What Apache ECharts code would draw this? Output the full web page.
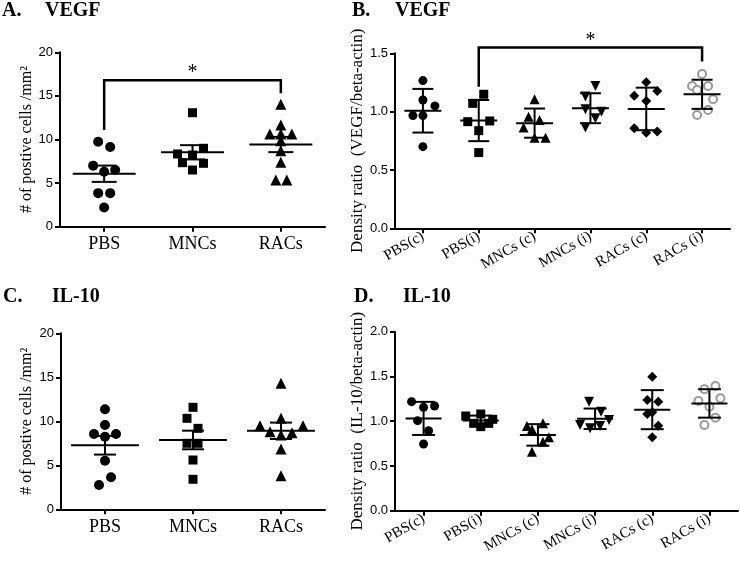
<!DOCTYPE html>
<html>
<head>
<meta charset="utf-8">
<script src="https://cdn.jsdelivr.net/npm/echarts@6/dist/echarts.min.js"></script>
<style>
html,body{margin:0;padding:0;background:#fff;}
#main{width:740px;height:563px;}
</style>
</head>
<body>
<div id="main"></div>
<script>
// ---------- DATA ----------
const catsCells = ['PBS', 'MNCs', 'RACs'];
const catsRatio = ['PBS(c)', 'PBS(i)', 'MNCs (c)', 'MNCs (i)', 'RACs (c)', 'RACs (i)'];
const cellTicks = [0, 5, 10, 15, 20];
const ratioTicksB = [0, 0.5, 1.0, 1.5];
const ratioTicksD = [0, 0.5, 1.0, 1.5, 2.0];

// A. VEGF positive cells / mm2
const vegfCellsPBS  = [9.75, 9.15, 7.0, 6.3, 6.5, 3.85, 3.85, 2.2];
const vegfCellsMNCs = [13.07, 8.34, 8.99, 8.22, 7.34, 7.27, 6.5];
const vegfCellsRACs = [14.03, 11.66, 10.63, 10.63, 10.63, 9.86, 8.72, 7.38, 5.35, 5.35];

// B. VEGF density ratio
const vegfRatioPBSc  = [1.266, 1.10, 1.049, 0.966, 0.966, 0.70];
const vegfRatioPBSi  = [1.149, 1.071, 0.914, 0.92, 0.837, 0.649];
const vegfRatioMNCsc = [1.106, 0.957, 0.929, 0.863, 0.777, 0.777];
const vegfRatioMNCsi = [1.22, 1.129, 1.02, 1.0, 0.943, 0.863];
const vegfRatioRACsc = [1.251, 1.137, 1.177, 1.091, 0.857, 0.82, 0.829];
const vegfRatioRACsi = [1.323, 1.22, 1.22, 1.186, 1.106, 1.014, 0.971];

// C. IL-10 positive cells / mm2
const il10CellsPBS  = [11.36, 9.58, 8.56, 8.56, 8.25, 5.52, 3.64, 2.76];
const il10CellsMNCs = [11.59, 10.34, 9.2, 7.5, 7.5, 5.6, 3.41];
const il10CellsRACs = [14.32, 10.34, 9.5, 9.5, 8.82, 8.44, 8.7, 6.85, 3.82];

// D. IL-10 density ratio
const il10RatioPBSc  = [1.218, 1.155, 1.17, 1.006, 0.894, 0.745];
const il10RatioPBSi  = [1.058, 1.08, 1.021, 0.976, 0.939, 0.976];
const il10RatioMNCsc = [0.946, 0.976, 0.909, 0.82, 0.771, 0.659];
const il10RatioMNCsi = [1.218, 1.106, 0.958, 0.92, 0.946, 1.013];
const il10RatioRACsc = [1.497, 1.237, 1.218, 1.08, 1.1, 0.95, 0.82];
const il10RatioRACsi = [1.356, 1.393, 1.226, 1.256, 1.162, 1.039, 0.958];

// significance brackets: [fromCategory, toCategory, barLevel, leftDrop, rightDrop]
const bracketA = ['PBS', 'RACs', 16.8, 11.1, 15.3];
const bracketB = ['PBS(i)', 'RACs (i)', 1.549, 1.214, 1.429];

// ---------- horizontal spread of points (pixels, layout only) ----------
const jitA = [[-6,6,-11,0,11,-6,6,0],[0,-15,11,0,-10,11,0],[0,0,-11,0,11,0,0,0,-5,6]];
const jitB = [[0,0,12,-10,0,0],[5,-6,-11,11,0,0],[0,-6,5,-11,0,11],[5,-5,-5,11,5,-5],[0,-12,11,0,-12,0,11],[0,-10,6,-5,11,6,-5]];
const jitC = [[0,0,-11,11,0,0,6,-6],[0,-6,5,-6,5,0,0],[0,0,-21,22,-11,0,11,0,0]];
const jitD = [[-12,0,11,-6,5,0],[-15,0,12,-7,0,8],[-11,5,-6,11,5,-6],[-6,6,-15,-5,5,14],[0,-5,6,-5,0,6,0],[-5,6,-11,11,0,6,-5]];

// ---------- helpers ----------
const SERIF = 'Liberation Serif, Times New Roman, serif';
const SANS = 'Liberation Sans, Arial, sans-serif';
function mean(a){ return a.reduce((s,v)=>s+v,0)/a.length; }
function sd(a){ const m=mean(a); return Math.sqrt(a.reduce((s,v)=>s+(v-m)*(v-m),0)/(a.length-1)); }
function sem(a){ return sd(a)/Math.sqrt(a.length); }

const black = {color:'#000', opacity:1};
const symbolsCells = [
  {symbol:'circle', size:10, rotate:0, style:black},
  {symbol:'rect', size:9, rotate:0, style:black},
  {symbol:'triangle', size:11, rotate:0, style:black}
];
const symbolsRatio = [
  {symbol:'circle', size:9, rotate:0, style:black},
  {symbol:'rect', size:9, rotate:0, style:black},
  {symbol:'triangle', size:10, rotate:0, style:black},
  {symbol:'triangle', size:10, rotate:180, style:black},
  {symbol:'diamond', size:10, rotate:0, style:black},
  {symbol:'circle', size:8, rotate:0, style:{color:'#fff', borderColor:'#9a9a9a', borderWidth:2, opacity:1}}
];

const series = [];
function addPanel(idx, groups, jit, syms, errFn, meanW, capW){
  groups.forEach((vals, ci) => {
    const s = syms[ci];
    series.push({
      type:'scatter', xAxisIndex:idx, yAxisIndex:idx,
      symbol:s.symbol, symbolSize:s.size, symbolRotate:s.rotate,
      itemStyle:s.style, z:2, silent:true,
      data: vals.map((v,k)=>({value:[ci, v], symbolOffset:[jit[ci][k]||0, 0]}))
    });
  });
  series.push({
    type:'custom', xAxisIndex:idx, yAxisIndex:idx, z:5, silent:true,
    data: groups.map((vals,ci)=>[ci, mean(vals), errFn(vals)]),
    renderItem: function(params, api){
      const x = api.value(0), m = api.value(1), e = api.value(2);
      const c = api.coord([x, m]);
      const hi = api.coord([x, m+e]);
      const lo = api.coord([x, m-e]);
      const st = {stroke:'#000', lineWidth:2};
      return {type:'group', children:[
        {type:'line', shape:{x1:c[0]-meanW/2, y1:c[1], x2:c[0]+meanW/2, y2:c[1]}, style:st},
        {type:'line', shape:{x1:c[0], y1:hi[1], x2:c[0], y2:lo[1]}, style:st},
        {type:'line', shape:{x1:c[0]-capW/2, y1:hi[1], x2:c[0]+capW/2, y2:hi[1]}, style:st},
        {type:'line', shape:{x1:c[0]-capW/2, y1:lo[1], x2:c[0]+capW/2, y2:lo[1]}, style:st}
      ]};
    }
  });
}
function addBracket(idx, cats, br){
  series.push({
    type:'custom', xAxisIndex:idx, yAxisIndex:idx, z:6, silent:true,
    data:[[cats.indexOf(br[0]), cats.indexOf(br[1]), br[2], br[3], br[4]]],
    encode:{x:[0,1], y:[2,3,4]},
    renderItem: function(params, api){
      const a = api.value(0), b = api.value(1), top = api.value(2), l = api.value(3), r = api.value(4);
      const p1 = api.coord([a, l]), p2 = api.coord([a, top]), p3 = api.coord([b, top]), p4 = api.coord([b, r]);
      return {type:'group', children:[
        {type:'polyline', shape:{points:[p1,p2,p3,p4]}, style:{stroke:'#000', lineWidth:2.5, fill:null}},
        {type:'text', x:(p2[0]+p3[0])/2, y:p2[1]+3, style:{text:'*', fontFamily:SERIF, fontSize:20, fill:'#000', align:'center', verticalAlign:'bottom'}}
      ]};
    }
  });
}

addPanel(0, [vegfCellsPBS, vegfCellsMNCs, vegfCellsRACs], jitA, symbolsCells, sem, 63, 25);
addPanel(1, [vegfRatioPBSc, vegfRatioPBSi, vegfRatioMNCsc, vegfRatioMNCsi, vegfRatioRACsc, vegfRatioRACsi], jitB, symbolsRatio, sd, 37, 21);
addPanel(2, [il10CellsPBS, il10CellsMNCs, il10CellsRACs], jitC, symbolsCells, sem, 68, 22);
addPanel(3, [il10RatioPBSc, il10RatioPBSi, il10RatioMNCsc, il10RatioMNCsi, il10RatioRACsc, il10RatioRACsi], jitD, symbolsRatio, sd, 36, 23);
addBracket(0, catsCells, bracketA);
addBracket(1, catsRatio, bracketB);

const axisLine = {show:true, lineStyle:{color:'#000', width:2}};
const axisTick = {show:true, length:5, lineStyle:{color:'#000', width:2}};

function xCat(idx, cats, rotated){
  return {
    type:'category', gridIndex:idx, data:cats, boundaryGap:true,
    axisLine:axisLine, axisTick:Object.assign({alignWithLabel:true}, axisTick),
    axisLabel: rotated
      ? {rotate:30, margin:7, fontFamily:SERIF, fontSize:15, color:'#000', interval:0}
      : {margin:9, fontFamily:SERIF, fontSize:18, color:'#000', interval:0},
    splitLine:{show:false}
  };
}
function yVal(idx, ticks, name, gap, digits){
  return {
    type:'value', gridIndex:idx, min:ticks[0], max:ticks[ticks.length-1], interval:ticks[1]-ticks[0],
    axisLine:axisLine, axisTick:axisTick, splitLine:{show:false},
    axisLabel:{margin:7, fontFamily:SANS, fontSize:13, color:'#000',
      formatter: v => digits ? v.toFixed(digits) : String(v)},
    name:name, nameLocation:'middle', nameGap:gap, nameRotate:90,
    nameTextStyle:{fontFamily:SERIF, fontSize: digits ? 17 : 16, color:'#000'}
  };
}

function ttl(text, left, top){
  return {text:text, left:left, top:top, padding:0,
    textStyle:{fontFamily:SERIF, fontWeight:'bold', fontSize:20, color:'#000'}};
}

const option = {
  backgroundColor:'#fff',
  animation:false,
  title:[
    ttl('A.', 2, 1), ttl('VEGF', 45, 1),
    ttl('B.', 352, 1), ttl('VEGF', 395, 1),
    ttl('C.', 3, 287), ttl('IL-10', 52, 287),
    ttl('D.', 354, 287), ttl('IL-10', 403, 287)
  ],
  grid:[
    {left:60, top:52.3, width:265, height:174.4},
    {left:395, top:53.3, width:335, height:175},
    {left:61, top:333.3, width:264, height:176},
    {left:395, top:331.7, width:343, height:179}
  ],
  xAxis:[ xCat(0, catsCells, false), xCat(1, catsRatio, true), xCat(2, catsCells, false), xCat(3, catsRatio, true) ],
  yAxis:[
    yVal(0, cellTicks, '# of postive cells /mm²', 25, 0),
    yVal(1, ratioTicksB, 'Density ratio  (VEGF/beta-actin)', 28, 1),
    yVal(2, cellTicks, '# of postive cells /mm²', 26, 0),
    yVal(3, ratioTicksD, 'Density ratio  (IL-10/beta-actin)', 28, 1)
  ],
  series: series
};

const chart = echarts.init(document.getElementById('main'), null, {renderer:'canvas'});
chart.setOption(option);
</script>
</body>
</html>
